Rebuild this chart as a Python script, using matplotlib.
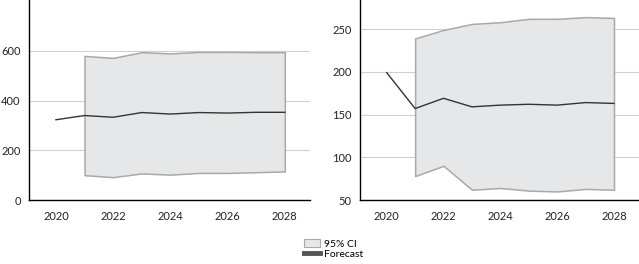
import matplotlib.pyplot as plt
from matplotlib.patches import Patch
from matplotlib.lines import Line2D

plt.rcParams['font.family'] = ['Lato', 'DejaVu Sans']
plt.rcParams['font.size'] = 7.5

years = [2020, 2021, 2022, 2023, 2024, 2025, 2026, 2027, 2028]
ci_years = years[1:]

# left panel
fc_a = [323, 340, 333, 352, 346, 352, 350, 353, 353]
hi_a = [580, 572, 595, 590, 596, 596, 595, 595]
lo_a = [100, 92, 107, 102, 109, 109, 112, 115]

# right panel
fc_b = [199, 157, 169, 159, 161, 162, 161, 164, 163]
hi_b = [239, 249, 256, 258, 262, 262, 264, 263]
lo_b = [78, 90, 62, 64, 61, 60, 63, 62]

fig = plt.figure(figsize=(6.39, 2.64), dpi=100)
ax1 = fig.add_axes([0.0454, 0.2424, 0.4397, 0.7576])
ax2 = fig.add_axes([0.5634, 0.2424, 0.4366, 0.7576])


def draw(ax, fc, hi, lo, yticks, ylim):
    ax.fill_between(ci_years, lo, hi, facecolor='#e6e7e9', edgecolor='#a9a9a9',
                    linewidth=1.1, zorder=2)
    ax.plot(years, fc, color='#333333', linewidth=1.0, zorder=3)
    ax.set_xlim(2019.06, 2028.88)
    ax.set_ylim(*ylim)
    ax.set_xticks([2020, 2022, 2024, 2026, 2028])
    ax.set_yticks(yticks)
    ax.grid(axis='y', color='#d0d0d0', linewidth=0.8, zorder=0)
    ax.set_axisbelow(True)
    for s in ['top', 'right']:
        ax.spines[s].set_visible(False)
    ax.spines['left'].set_linewidth(1.0)
    ax.spines['bottom'].set_linewidth(1.0)
    ax.tick_params(length=0, colors='#222222', labelsize=8)
    ax.tick_params(axis='x', pad=8)
    ax.tick_params(axis='y', pad=6)


draw(ax1, fc_a, hi_a, lo_a, [0, 200, 400, 600], (0, 805))
draw(ax2, fc_b, hi_b, lo_b, [50, 100, 150, 200, 250], (50, 284))

handles = [Patch(facecolor='#e6e7e9', edgecolor='#a9a9a9', linewidth=0.8),
           Line2D([0], [0], color='#555555', linewidth=3.5)]
fig.legend(handles, ['95% CI', 'Forecast'], loc='center',
           bbox_to_anchor=(0.522, 0.057), frameon=False, handlelength=1.6,
           handleheight=0.7, handletextpad=0.4, labelspacing=0.05)

fig.savefig('out.png', dpi=100)
